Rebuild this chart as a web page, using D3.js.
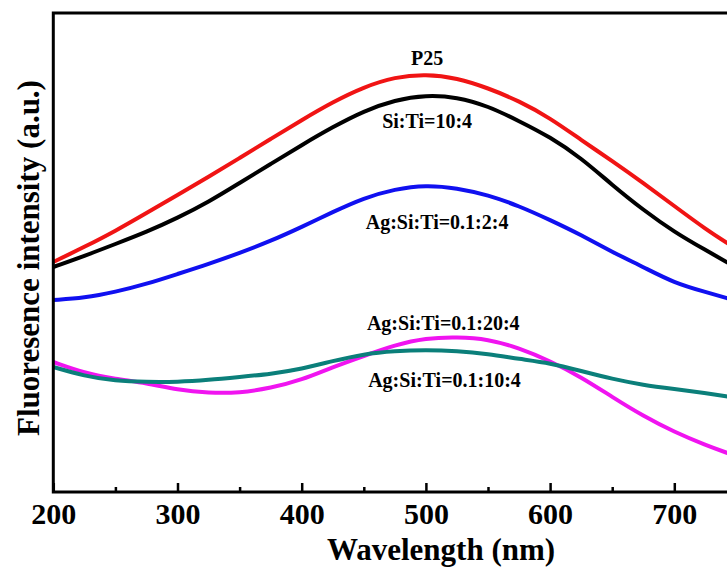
<!DOCTYPE html>
<html>
<head>
<meta charset="utf-8">
<script src="https://cdn.jsdelivr.net/npm/d3@7"></script>
<style>
	body { margin: 0; background: #fff; }
	text { font-family: "Liberation Serif", "Times New Roman", serif; font-weight: bold; }
</style>
</head>
<body>
<script>
// wavelength (nm) where each curve was read
var wavelength = [200, 225, 250, 275, 300, 325, 350, 375, 400, 425, 450, 475, 500, 525, 550, 575, 600, 625, 650, 675, 700, 725, 745];

// intensity (a.u.)
var p25      = [230, 245, 261, 279, 297, 315, 334, 353, 372, 390, 405, 415, 418, 414, 404, 391, 374, 352, 331, 309, 286, 263, 247];
var siTi     = [225, 236, 248, 260, 274, 290, 309, 328, 347, 365, 381, 392, 397, 395, 386, 371, 355, 334, 307, 282, 260, 242, 228];
var ag_2_4   = [192, 194, 200, 208, 218, 228, 239, 251, 265, 280, 294, 303, 307, 304, 297, 286, 272, 257, 240, 225, 209, 200, 193];
var ag_20_4  = [130, 119, 113, 109, 102,  99,  99, 104, 112, 125, 136, 147, 154, 155, 153, 144, 131, 115,  95,  76,  60,  47,  38];
var ag_10_4  = [125, 116, 111, 110, 110, 112, 115, 118, 123, 131, 138, 141, 142, 141, 138, 133, 129, 121, 113, 107, 103,  99,  95];

var seriesNames  = ["P25", "Si:Ti=10:4", "Ag:Si:Ti=0.1:2:4", "Ag:Si:Ti=0.1:20:4", "Ag:Si:Ti=0.1:10:4"];
var seriesValues = [p25, siTi, ag_2_4, ag_20_4, ag_10_4];
var seriesColors = ["#f01414", "#000000", "#1010f0", "#f014f0", "#0b7f7a"];

// where the names sit (nm, a.u.)
var labelNm  = [501, 501, 509, 514, 515];
var labelVal = [427, 364, 263, 162, 105];

var majorTicks = [200, 300, 400, 500, 600, 700];
var minorTicks = [250, 350, 450, 550, 650, 750];

function main(){
	var W = 727, H = 568;
	var left = 53.3, top = 13, bottom = 492, right = 798.5;

	var svg = d3.select('body').append('svg').attr('width', W).attr('height', H);

	var x = d3.scaleLinear().domain([200, 800]).range([left, right]);
	var y = d3.scaleLinear().domain([0, 480]).range([bottom, bottom - 480]);

	var line = d3.line()
		.x(function(d, i){ return x(wavelength[i]); })
		.y(function(d){ return y(d); })
		.curve(d3.curveBasis);

	svg.selectAll('path.curve')
		.data(seriesValues)
		.enter()
		.append('path')
		.attr('class', 'curve')
		.attr('d', line)
		.attr('fill', 'none')
		.attr('stroke', function(d, i){ return seriesColors[i]; })
		.attr('stroke-width', 4)
		.attr('stroke-linejoin', 'round');

	// frame
	svg.append('rect')
		.attr('x', left).attr('y', top)
		.attr('width', right - left).attr('height', bottom - top)
		.attr('fill', 'none').attr('stroke', '#000').attr('stroke-width', 3);

	var major = svg.append('g')
		.attr('transform', 'translate(0,' + bottom + ')')
		.call(d3.axisBottom(x).tickValues(majorTicks).tickSize(-9).tickSizeOuter(0).tickPadding(11).tickFormat(d3.format('d')));
	major.select('.domain').remove();
	major.selectAll('line').attr('stroke-width', 2.5);
	major.selectAll('text').attr('font-size', 30).attr('fill', '#000')
		.attr('font-family', '"Liberation Serif", serif').attr('font-weight', 'bold');

	var minor = svg.append('g')
		.attr('transform', 'translate(0,' + bottom + ')')
		.call(d3.axisBottom(x).tickValues(minorTicks).tickSize(-5).tickSizeOuter(0).tickFormat(''));
	minor.select('.domain').remove();
	minor.selectAll('line').attr('stroke-width', 2.5);

	svg.selectAll('text.lab')
		.data(seriesNames)
		.enter()
		.append('text')
		.attr('class', 'lab')
		.attr('x', function(d, i){ return x(labelNm[i]); })
		.attr('y', function(d, i){ return y(labelVal[i]); })
		.attr('text-anchor', 'middle')
		.attr('font-size', 20)
		.text(function(d){ return d; });

	svg.append('text')
		.attr('x', 441).attr('y', 560)
		.attr('text-anchor', 'middle')
		.attr('font-size', 31)
		.text('Wavelength (nm)');

	svg.append('text')
		.attr('transform', 'translate(39,258) rotate(-90)')
		.attr('text-anchor', 'middle')
		.attr('font-size', 31)
		.text('Fluoresence intensity (a.u.)');
}

main();
</script>
</body>
</html>
